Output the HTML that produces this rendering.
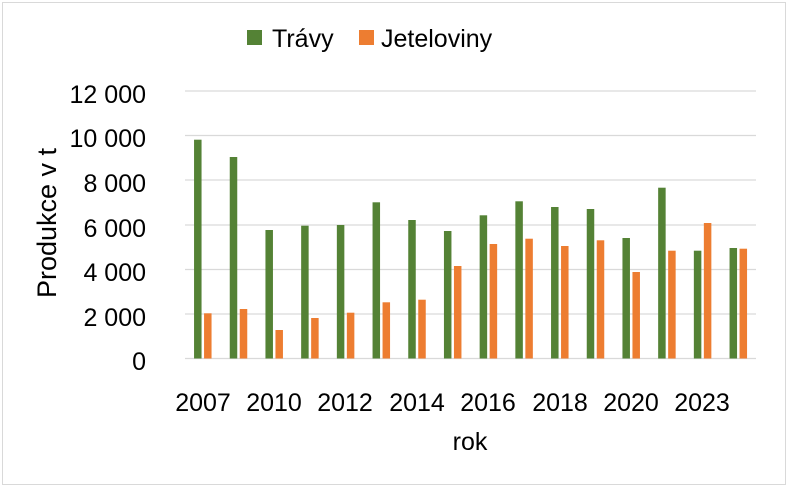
<!DOCTYPE html>
<html><head><meta charset="utf-8"><style>
body{margin:0;background:#fff}
svg text{font-family:"Liberation Sans",sans-serif;fill:#000}
</style></head><body>
<svg width="788" height="487" viewBox="0 0 788 487" xmlns="http://www.w3.org/2000/svg">
<rect x="2.5" y="2.5" width="783" height="482" fill="#fff" stroke="#d9d9d9"/>
<g stroke="#d9d9d9" stroke-width="1.3">
<line x1="185" x2="756" y1="91" y2="91"/>
<line x1="185" x2="756" y1="135.5" y2="135.5"/>
<line x1="185" x2="756" y1="180" y2="180"/>
<line x1="185" x2="756" y1="225" y2="225"/>
<line x1="185" x2="756" y1="269.5" y2="269.5"/>
<line x1="185" x2="756" y1="314" y2="314"/>
<line x1="185" x2="756" y1="358.5" y2="358.5"/>
</g>
<g font-size="25" text-anchor="end">
<text x="146" y="103">12 000</text>
<text x="146" y="147">10 000</text>
<text x="146" y="192">8 000</text>
<text x="146" y="237">6 000</text>
<text x="146" y="281">4 000</text>
<text x="146" y="326">2 000</text>
<text x="146" y="370">0</text>
</g>
<g fill="#548235">
<rect x="194.05" y="139.7" width="7.5" height="218.8"/>
<rect x="229.75" y="157" width="7.5" height="201.5"/>
<rect x="265.45" y="230" width="7.5" height="128.5"/>
<rect x="301.15" y="225.7" width="7.5" height="132.8"/>
<rect x="336.85" y="225" width="7.5" height="133.5"/>
<rect x="372.55" y="202.3" width="7.5" height="156.2"/>
<rect x="408.25" y="220" width="7.5" height="138.5"/>
<rect x="443.95" y="231" width="7.5" height="127.5"/>
<rect x="479.65" y="215.3" width="7.5" height="143.2"/>
<rect x="515.35" y="201.3" width="7.5" height="157.2"/>
<rect x="551.05" y="207" width="7.5" height="151.5"/>
<rect x="586.75" y="209" width="7.5" height="149.5"/>
<rect x="622.45" y="238" width="7.5" height="120.5"/>
<rect x="658.15" y="187.7" width="7.5" height="170.8"/>
<rect x="693.85" y="250.7" width="7.5" height="107.8"/>
<rect x="729.55" y="248" width="7.5" height="110.5"/>
</g>
<g fill="#ed7d31">
<rect x="204.05" y="313.3" width="7.5" height="45.2"/>
<rect x="239.75" y="309" width="7.5" height="49.5"/>
<rect x="275.45" y="330" width="7.5" height="28.5"/>
<rect x="311.15" y="318" width="7.5" height="40.5"/>
<rect x="346.85" y="312.7" width="7.5" height="45.8"/>
<rect x="382.55" y="302.3" width="7.5" height="56.2"/>
<rect x="418.25" y="299.7" width="7.5" height="58.8"/>
<rect x="453.95" y="266" width="7.5" height="92.5"/>
<rect x="489.65" y="244" width="7.5" height="114.5"/>
<rect x="525.35" y="238.7" width="7.5" height="119.8"/>
<rect x="561.05" y="246" width="7.5" height="112.5"/>
<rect x="596.75" y="240.3" width="7.5" height="118.2"/>
<rect x="632.45" y="272" width="7.5" height="86.5"/>
<rect x="668.15" y="250.7" width="7.5" height="107.8"/>
<rect x="703.85" y="223" width="7.5" height="135.5"/>
<rect x="739.55" y="248.7" width="7.5" height="109.8"/>
</g>
<g font-size="25" text-anchor="middle">
<text x="203" y="411">2007</text>
<text x="274" y="411">2010</text>
<text x="345" y="411">2012</text>
<text x="417" y="411">2014</text>
<text x="488" y="411">2016</text>
<text x="560" y="411">2018</text>
<text x="631" y="411">2020</text>
<text x="702" y="411">2023</text>
<text x="470" y="450">rok</text>
</g>
<text transform="translate(56,223) rotate(-90)" font-size="27" text-anchor="middle">Produkce v t</text>
<rect x="247" y="30" width="15" height="15" fill="#548235"/>
<text x="272" y="47" font-size="25">Trávy</text>
<rect x="359" y="30" width="15" height="15" fill="#ed7d31"/>
<text x="381" y="47" font-size="25">Jeteloviny</text>
</svg>
</body></html>
